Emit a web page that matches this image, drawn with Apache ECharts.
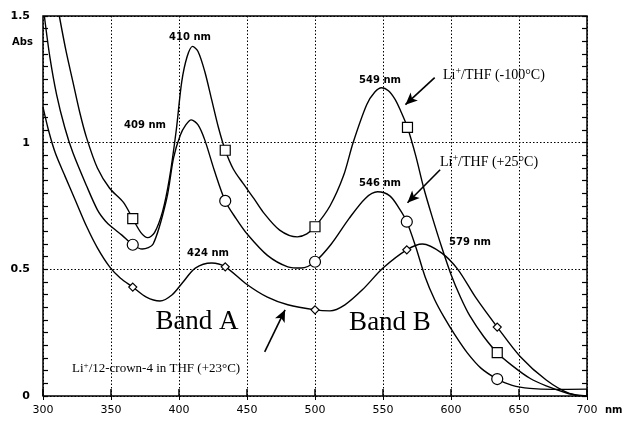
<!DOCTYPE html>
<html>
<head>
<meta charset="utf-8">
<script src="https://cdn.jsdelivr.net/npm/echarts@6/dist/echarts.min.js"></script>
<style>
html, body { margin: 0; padding: 0; background: #fff; }
#chart { width: 628px; height: 425px; }
</style>
</head>
<body>
<div id="chart"></div>
<script>
// wavelength (nm), absorbance
const coldCurve = [
  [312, 1.5], [317, 1.36], [322, 1.24], [327, 1.12], [332, 1.02], [340, 0.90],
  [349, 0.82], [359, 0.765], [366, 0.70], [372, 0.645], [377, 0.625], [382, 0.645],
  [388, 0.73], [393, 0.86], [398, 1.05], [402, 1.24], [406, 1.34], [410, 1.38],
  [414, 1.36], [419, 1.28], [424, 1.17], [429, 1.06], [434, 0.97], [440, 0.895],
  [447, 0.84], [455, 0.78], [462, 0.725], [474, 0.655], [487, 0.628], [494, 0.64],
  [500, 0.668], [511, 0.75], [521, 0.87], [528, 1.0], [538, 1.15], [544, 1.2],
  [549, 1.217], [554, 1.205], [559, 1.17], [563, 1.125], [568, 1.06], [574, 0.95],
  [580, 0.82], [586, 0.71], [593, 0.59], [600, 0.48], [607, 0.39], [614, 0.315],
  [624, 0.235], [634, 0.171], [645, 0.12], [658, 0.07], [670, 0.04], [685, 0.012],
  [695, 0]
];
const roomCurve = [
  [301, 1.5], [305, 1.34], [310, 1.19], [316, 1.06], [322, 0.96], [332, 0.83],
  [340, 0.735], [346, 0.69], [351, 0.665], [358, 0.635], [366, 0.597], [373, 0.58],
  [381, 0.60], [391, 0.78], [396, 0.94], [401, 1.03], [405, 1.07], [409, 1.09],
  [414, 1.07], [419, 1.01], [426, 0.89], [434, 0.77], [442, 0.70], [450, 0.64],
  [465, 0.555], [480, 0.51], [490, 0.505], [500, 0.53], [512, 0.60], [525, 0.70],
  [537, 0.78], [546, 0.806], [555, 0.79], [562, 0.74], [567.5, 0.688], [574, 0.59],
  [581, 0.47], [588, 0.38], [595, 0.31], [603, 0.24], [612, 0.17], [622, 0.11],
  [634, 0.067], [645, 0.042], [658, 0.03], [675, 0.026], [700, 0.027]
];
const crownCurve = [
  [300, 1.14], [304, 1.05], [309, 0.96], [316, 0.87], [324, 0.77], [332, 0.67],
  [340, 0.585], [349, 0.51], [357, 0.465], [366, 0.43], [376, 0.39], [386, 0.375],
  [395, 0.40], [403, 0.45], [412, 0.505], [424, 0.525], [434, 0.51], [450, 0.44],
  [465, 0.39], [480, 0.36], [500, 0.34], [511, 0.336], [522, 0.36], [535, 0.42],
  [550, 0.505], [567.5, 0.577], [579, 0.60], [593, 0.565], [605, 0.50], [618, 0.39],
  [634, 0.272], [651, 0.155], [670, 0.063], [687, 0.01], [700, 0]
];
const squareMarks = [[366, 0.70], [434, 0.97], [500, 0.668], [568, 1.06], [634, 0.171]];
const circleMarks = [[366, 0.597], [434, 0.77], [500, 0.53], [567.5, 0.688], [634, 0.067]];
const diamondMarks = [[366, 0.43], [434, 0.51], [500, 0.34], [567.5, 0.577], [634, 0.272]];

const chart = echarts.init(document.getElementById('chart'));

const serif = '"Liberation Serif", serif';
const sans = '"DejaVu Sans", sans-serif';

function curve(data) {
  return {
    type: 'line', data: data, smooth: 0.3, symbol: 'none',
    lineStyle: { color: '#000', width: 1.4 }, z: 3, silent: true
  };
}
function marks(data, symbol, size) {
  return {
    type: 'scatter', data: data, symbol: symbol, symbolSize: size,
    itemStyle: { color: '#fff', borderColor: '#000', borderWidth: 1.2, opacity: 1 }, z: 5
  };
}
function arrow(from, to) {
  return [{ coord: from }, { coord: to }];
}

function superLabel(pre, post) {
  return '{a|' + pre + '}{s|+}{a|' + post + '}';
}
const richSerif = (size) => ({
  a: { fontFamily: serif, fontSize: size, color: '#000' },
  s: { fontFamily: serif, fontSize: size - 4, color: '#000', padding: [0, 0, 7, 0] }
});
const peakLabel = (x, y, text) => ({
  type: 'text', x: x, y: y,
  style: { text: text, font: 'bold 10px ' + sans, fill: '#000', align: 'center', verticalAlign: 'middle' }
});

chart.setOption({
  animation: false,
  grid: { left: 43, right: 41, top: 16, bottom: 29, show: true, borderColor: '#000', borderWidth: 1.5 },
  xAxis: [{
    type: 'value', min: 300, max: 700, interval: 50,
    axisLine: { show: false },
    axisTick: { show: true, inside: true, length: 7, lineStyle: { color: '#000', width: 1.5 } },
    axisLabel: { color: '#000', fontFamily: sans, fontSize: 11, margin: 9 },
    splitLine: { show: true, lineStyle: { color: '#000', type: [1.5, 2], width: 1 } }
  }, {
    type: 'value', min: 300, max: 700, interval: 50, position: 'top',
    axisLine: { show: false },
    axisTick: { show: true, inside: true, length: 4, lineStyle: { color: '#000' } },
    axisLabel: { show: false }, splitLine: { show: false }
  }],
  yAxis: [{
    type: 'value', min: 0, max: 1.5, interval: 0.5,
    axisLine: { show: false },
    axisTick: { show: true, inside: true, length: 5, lineStyle: { color: '#000', width: 1.2 } },
    minorTick: { show: true, splitNumber: 10, length: 5, lineStyle: { color: '#000', width: 1.2 } },
    axisLabel: { color: '#000', fontFamily: sans, fontSize: 11, margin: 13, fontWeight: 'bold' },
    splitLine: { show: true, lineStyle: { color: '#000', type: [1.5, 2], width: 1 } }
  }, {
    type: 'value', min: 0, max: 1.5, interval: 0.5, position: 'right',
    axisLine: { show: false },
    axisTick: { show: true, inside: true, length: 5, lineStyle: { color: '#000', width: 1.2 } },
    minorTick: { show: true, splitNumber: 10, length: 5, lineStyle: { color: '#000', width: 1.2 } },
    axisLabel: { show: false }, splitLine: { show: false }
  }],
  series: [
    curve(coldCurve),
    curve(roomCurve),
    curve(crownCurve),
    marks(squareMarks, 'rect', 10),
    marks(circleMarks, 'circle', 11),
    marks(diamondMarks, 'diamond', 8),
    {
      type: 'line', data: [], silent: true,
      markLine: {
        silent: true, symbol: ['none', 'arrow'], symbolSize: [8, 12],
        label: { show: false },
        lineStyle: { color: '#000', width: 1.6, type: 'solid' },
        data: [
          arrow([588, 1.257], [566.5, 1.15]),
          arrow([592, 0.893], [568, 0.763]),
          arrow([463, 0.174], [478, 0.34])
        ]
      }
    }
  ],
  graphic: [
    peakLabel(190, 37, '410 nm'),
    peakLabel(145, 125, '409 nm'),
    peakLabel(208, 253, '424 nm'),
    peakLabel(380, 80, '549 nm'),
    peakLabel(380, 183, '546 nm'),
    peakLabel(470, 242, '579 nm'),
    { type: 'text', x: 443, y: 75, style: { text: superLabel('Li', '/THF (-100°C)'), rich: richSerif(14), verticalAlign: 'middle' } },
    { type: 'text', x: 440, y: 162, style: { text: superLabel('Li', '/THF (+25°C)'), rich: richSerif(14), verticalAlign: 'middle' } },
    { type: 'text', x: 72, y: 369, style: { text: superLabel('Li', '/12-crown-4 in THF (+23°C)'), rich: richSerif(13), verticalAlign: 'middle' } },
    { type: 'text', x: 197, y: 322, style: { text: 'Band A', font: '27px ' + serif, fill: '#000', align: 'center', verticalAlign: 'middle' } },
    { type: 'text', x: 390, y: 323, style: { text: 'Band B', font: '27px ' + serif, fill: '#000', align: 'center', verticalAlign: 'middle' } },
    { type: 'text', x: 12, y: 42, style: { text: 'Abs', font: 'bold 10px ' + sans, fill: '#000', verticalAlign: 'middle' } },
    { type: 'text', x: 605, y: 410, style: { text: 'nm', font: 'bold 10px ' + sans, fill: '#000', verticalAlign: 'middle' } }
  ]
});
</script>
</body>
</html>
